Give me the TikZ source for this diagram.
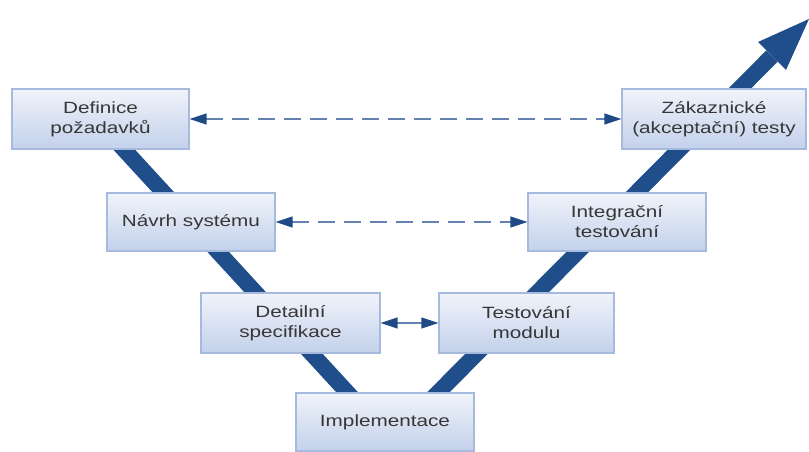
\documentclass[tikz,border=0pt]{standalone}
\usepackage{fontspec}
\setmainfont{Liberation Sans}[FakeStretch=1.27]
\usetikzlibrary{arrows.meta}

\definecolor{vblue}{HTML}{1F4E8A}
\definecolor{boxtop}{HTML}{F0F3FA}
\definecolor{boxbot}{HTML}{C3D1EB}
\definecolor{boxedge}{HTML}{A6BADD}
\definecolor{txtgray}{HTML}{363636}
\definecolor{dashblue}{HTML}{6482B0}
\definecolor{tipblue}{HTML}{1F4A86}

\tikzset{
  stagebox/.style={draw=boxedge, line width=1.3pt, top color=boxtop, bottom color=boxbot,
    align=center, text=txtgray, inner sep=0pt,
    font=\fontsize{16.3}{20}\selectfont},
  vband/.style={draw=vblue, line width=16pt, line join=miter},
  vhead/.style={fill=vblue, draw=none},
  linkarrow/.style={draw=dashblue, line width=1.5pt,
    {Triangle[length=17pt, width=11pt, color=tipblue]}-{Triangle[length=17pt, width=11pt, color=tipblue]}},
  linkdash/.style={dash pattern=on 17pt off 9pt}
}

\begin{document}
\begin{tikzpicture}[x=1pt, y=-1pt]
  \useasboundingbox (0,0) rectangle (809,452);

  % the V band and its arrowhead
  \coordinate (vtop) at (96,119);
  \coordinate (vapex) at (391,440);
  \coordinate (vbase) at (772,56);
  \coordinate (vtip) at (809,19);
  \coordinate (vbarbA) at (758,42);
  \coordinate (vbarbB) at (786,70);
  \draw[vband] (vtop) -- (vapex) -- (vbase);
  \fill[vhead] (vbarbA) -- (vtip) -- (vbarbB) -- cycle;

  % stages
  \node[stagebox, minimum width=177pt, minimum height=60pt] (req) at (100.5,119) {Definice\\požadavků};
  \node[stagebox, minimum width=168pt, minimum height=58pt] (sys) at (191,222) {Návrh systému};
  \node[stagebox, minimum width=179pt, minimum height=60pt] (spec) at (290.5,323) {Detailní\\specifikace};
  \node[stagebox, minimum width=178pt, minimum height=58pt] (impl) at (385,422) {Implementace};
  \node[stagebox, minimum width=175pt, minimum height=60pt] (unit) at (526.5,323) {Testování\\modulu};
  \node[stagebox, minimum width=178pt, minimum height=58pt] (integ) at (617,222) {Integrační\\testování};
  \node[stagebox, minimum width=184pt, minimum height=60pt] (accept) at (714,119) {Zákaznické\\(akceptační) testy};

  % links between matching levels
  \draw[linkarrow, linkdash] (req.east) -- (accept.west);
  \draw[linkarrow, linkdash] (sys.east) -- (integ.west);
  \draw[linkarrow] (spec.east) -- (unit.west);
\end{tikzpicture}
\end{document}
